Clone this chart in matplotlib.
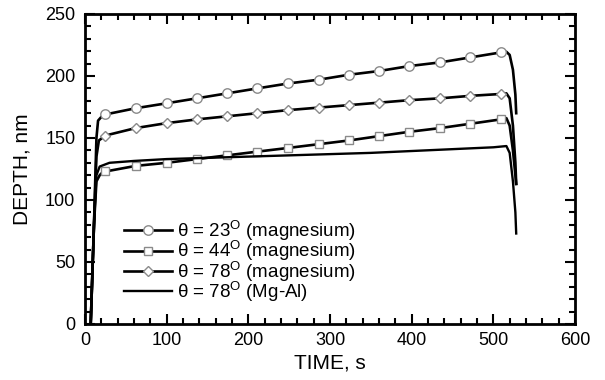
import matplotlib
matplotlib.use('Agg')
import matplotlib.pyplot as plt
from matplotlib.ticker import MultipleLocator

plt.rcParams['font.family'] = ['Liberation Sans', 'DejaVu Sans']
plt.rcParams['mathtext.fontset'] = 'custom'
plt.rcParams['mathtext.rm'] = 'Liberation Sans'
plt.rcParams['mathtext.it'] = 'Liberation Sans'

# marker positions (time, s) shared by the three magnesium curves
t_marks = [25, 62, 100, 137, 174, 211, 249, 286, 323, 360, 397, 435, 472, 509]

# theta = 23 (magnesium)
t_23_start = [7, 11, 14, 16, 20]
d_23_start = [0, 80, 150, 164, 167]
d_23_marks = [169, 174, 178, 182, 186, 190, 194, 197, 201, 204, 208, 211, 215, 219]
t_23_end = [516, 520, 524, 527, 528]
d_23_end = [219.5, 217, 205, 185, 170]

# theta = 44 (magnesium)
t_44_start = [7, 11, 14, 18, 21]
d_44_start = [0, 80, 115, 120, 122]
d_44_marks = [123, 127.5, 130, 133, 136, 139, 142, 145, 148, 151.5, 155, 158, 161.5, 165]
t_44_end = [516, 520, 524, 527, 528]
d_44_end = [166, 160, 140, 120, 113]

# theta = 78 (magnesium)
t_78_start = [7, 11, 14, 17, 21]
d_78_start = [0, 80, 135, 148, 150]
d_78_marks = [152, 158, 162, 165, 167.5, 170, 172.5, 174.5, 176.5, 178.5, 180.5, 182, 184, 185.5]
t_78_end = [516, 520, 524, 527, 528]
d_78_end = [186, 182, 160, 130, 113]

# theta = 78 (Mg-Al)
t_al = [7, 11, 14, 18, 30, 60, 100, 150, 200, 250, 300, 350, 400, 450, 500, 516, 520, 524, 527, 528]
d_al = [0, 80, 120, 127, 130, 131.5, 133, 134, 135, 136, 137, 138, 139.5, 141, 142.5, 143.5, 138, 115, 90, 73]

labels = [r'$\theta$ = 23$^{\rm O}$ (magnesium)',
          r'$\theta$ = 44$^{\rm O}$ (magnesium)',
          r'$\theta$ = 78$^{\rm O}$ (magnesium)',
          r'$\theta$ = 78$^{\rm O}$ (Mg-Al)']

fig = plt.figure(figsize=(6.05, 3.8), dpi=100)
ax = fig.add_axes([85 / 605, 56 / 380, 490 / 605, 310 / 380])

series = [
    (t_23_start, d_23_start, d_23_marks, t_23_end, d_23_end, 'o', 6.8, labels[0]),
    (t_44_start, d_44_start, d_44_marks, t_44_end, d_44_end, 's', 6.2, labels[1]),
    (t_78_start, d_78_start, d_78_marks, t_78_end, d_78_end, 'D', 4.6, labels[2]),
]
for ts, ds, dm, te, de, mk, ms, lab in series:
    t = ts + t_marks + te
    d = ds + dm + de
    n0 = len(ts)
    ax.plot(t, d, color='black', lw=1.9, marker=mk, ms=ms, mfc='white',
            mec='#8a8a8a', mew=1, markevery=list(range(n0, n0 + len(t_marks))),
            label=lab)
ax.plot(t_al, d_al, color='black', lw=1.7, label=labels[3])

ax.set_xlim(0, 600)
ax.set_ylim(0, 250)
ax.xaxis.set_major_locator(MultipleLocator(100))
ax.xaxis.set_minor_locator(MultipleLocator(20))
ax.yaxis.set_major_locator(MultipleLocator(50))
ax.yaxis.set_minor_locator(MultipleLocator(10))
ax.tick_params(which='both', direction='in', top=True, right=True, labelsize=13, width=1.5)
ax.tick_params(which='major', length=7)
ax.tick_params(which='minor', length=4)
ax.tick_params(axis='x', pad=6)
ax.tick_params(axis='y', pad=7)
for s in ax.spines.values():
    s.set_linewidth(2)

ax.set_xlabel('TIME, s', fontsize=15, labelpad=3)
ax.set_ylabel('DEPTH, nm', fontsize=15, labelpad=10)

ax.legend(loc='lower left', bbox_to_anchor=(0.08, 0.065), frameon=False, fontsize=13.5,
          handlelength=2.55, labelspacing=-0.2, handletextpad=0.28, numpoints=1,
          borderpad=0, borderaxespad=0)

fig.savefig('out.png', dpi=100)
